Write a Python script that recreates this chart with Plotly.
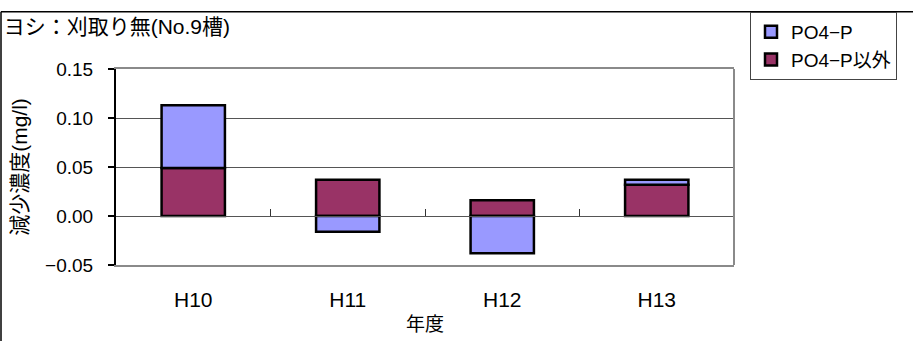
import plotly.graph_objects as go

# Fiscal years and decrease in concentration (mg/l) by component
years = ["H10", "H11", "H12", "H13"]
po4_p = [0.064, -0.016, -0.038, 0.005]
other_p = [0.049, 0.037, 0.016, 0.032]

y_ticks = [-0.05, 0.0, 0.05, 0.10, 0.15]
y_range = [-0.05, 0.15]

FONT = "Liberation Sans, Arial, Noto Sans CJK JP, sans-serif"

fig = go.Figure()

# Stacked (relative) columns; first trace sits next to the zero line
fig.add_trace(go.Bar(
    x=years, y=other_p, name="PO4−P以外",
    marker=dict(color="#993366", line=dict(color="black", width=2.5)),
    legendgroup="b",
))
fig.add_trace(go.Bar(
    x=years, y=po4_p, name="PO4−P",
    marker=dict(color="#9999FF", line=dict(color="black", width=2.5)),
    legendgroup="a",
))

# Helper trace so the category axis drawn at y = 0 is rendered
fig.add_trace(go.Scatter(
    x=[None], y=[None], xaxis="x2", yaxis="y",
    showlegend=False, hoverinfo="skip",
))

zero_pos = (0 - y_range[0]) / (y_range[1] - y_range[0])

fig.update_layout(
    width=913, height=341,
    margin=dict(l=116, r=179, t=66, b=76),
    paper_bgcolor="white", plot_bgcolor="white",
    font=dict(family=FONT, color="black", size=18),
    barmode="relative", bargap=0.59,
    title=dict(
        text="ヨシ：刈取り無(No.9槽)",
        x=0.004, xanchor="left", xref="container",
        y=1 - 27 / 341, yanchor="middle", yref="container",
        font=dict(size=21, family=FONT),
    ),
    xaxis=dict(
        type="category", categoryorder="array", categoryarray=years,
        showline=True, linecolor="#8a8a8a", linewidth=2, mirror=True,
        ticks="", showgrid=False, zeroline=False, automargin=False,
        tickfont=dict(size=21), ticklabelstandoff=15,
        title=dict(text="年度", font=dict(size=19), standoff=7),
    ),
    xaxis2=dict(
        overlaying="x", anchor="free", position=zero_pos, side="bottom",
        range=[-0.5, len(years) - 0.5], tickmode="linear", tick0=0.5, dtick=1,
        ticks="inside", ticklen=7, tickwidth=1, tickcolor="#333333",
        showline=True, linecolor="#555555", linewidth=1,
        showticklabels=False, showgrid=False, zeroline=False,
    ),
    yaxis=dict(
        range=y_range, tickmode="array", tickvals=y_ticks,
        tickformat=".2f", tickfont=dict(size=19),
        showline=True, linecolor="black", linewidth=2,
        ticks="outside", ticklen=6, tickwidth=2, tickcolor="black",
        ticklabelstandoff=11, automargin=False,
        showgrid=True, gridcolor="#555555", gridwidth=1, zeroline=False,
        title=dict(text="減少濃度(mg/l)", font=dict(size=21), standoff=12),
    ),
    legend=dict(
        traceorder="reversed",
        x=(750 - 116) / 618, xanchor="left",
        y=(265 - 8) / 199, yanchor="top",
        bgcolor="white", bordercolor="#444444", borderwidth=1,
        font=dict(size=19), tracegroupgap=6,
        itemwidth=30, entrywidth=122, entrywidthmode="pixels",
    ),
    shapes=[
        # right edge of the plot frame
        dict(type="line", xref="paper", yref="paper", x0=1, x1=1, y0=0, y1=1,
             line=dict(color="#8a8a8a", width=2)),
        # outer chart border (top and left)
        dict(type="line", xref="paper", yref="paper",
             x0=(1 - 116) / 618, x1=(913 - 116) / 618,
             y0=(265 - 8) / 199, y1=(265 - 8) / 199,
             line=dict(color="black", width=1.5)),
        dict(type="line", xref="paper", yref="paper",
             x0=(1 - 116) / 618, x1=(1 - 116) / 618,
             y0=(265 - 8) / 199, y1=(265 - 345) / 199,
             line=dict(color="black", width=1.5)),
    ],
)

fig.write_html("out.html")
